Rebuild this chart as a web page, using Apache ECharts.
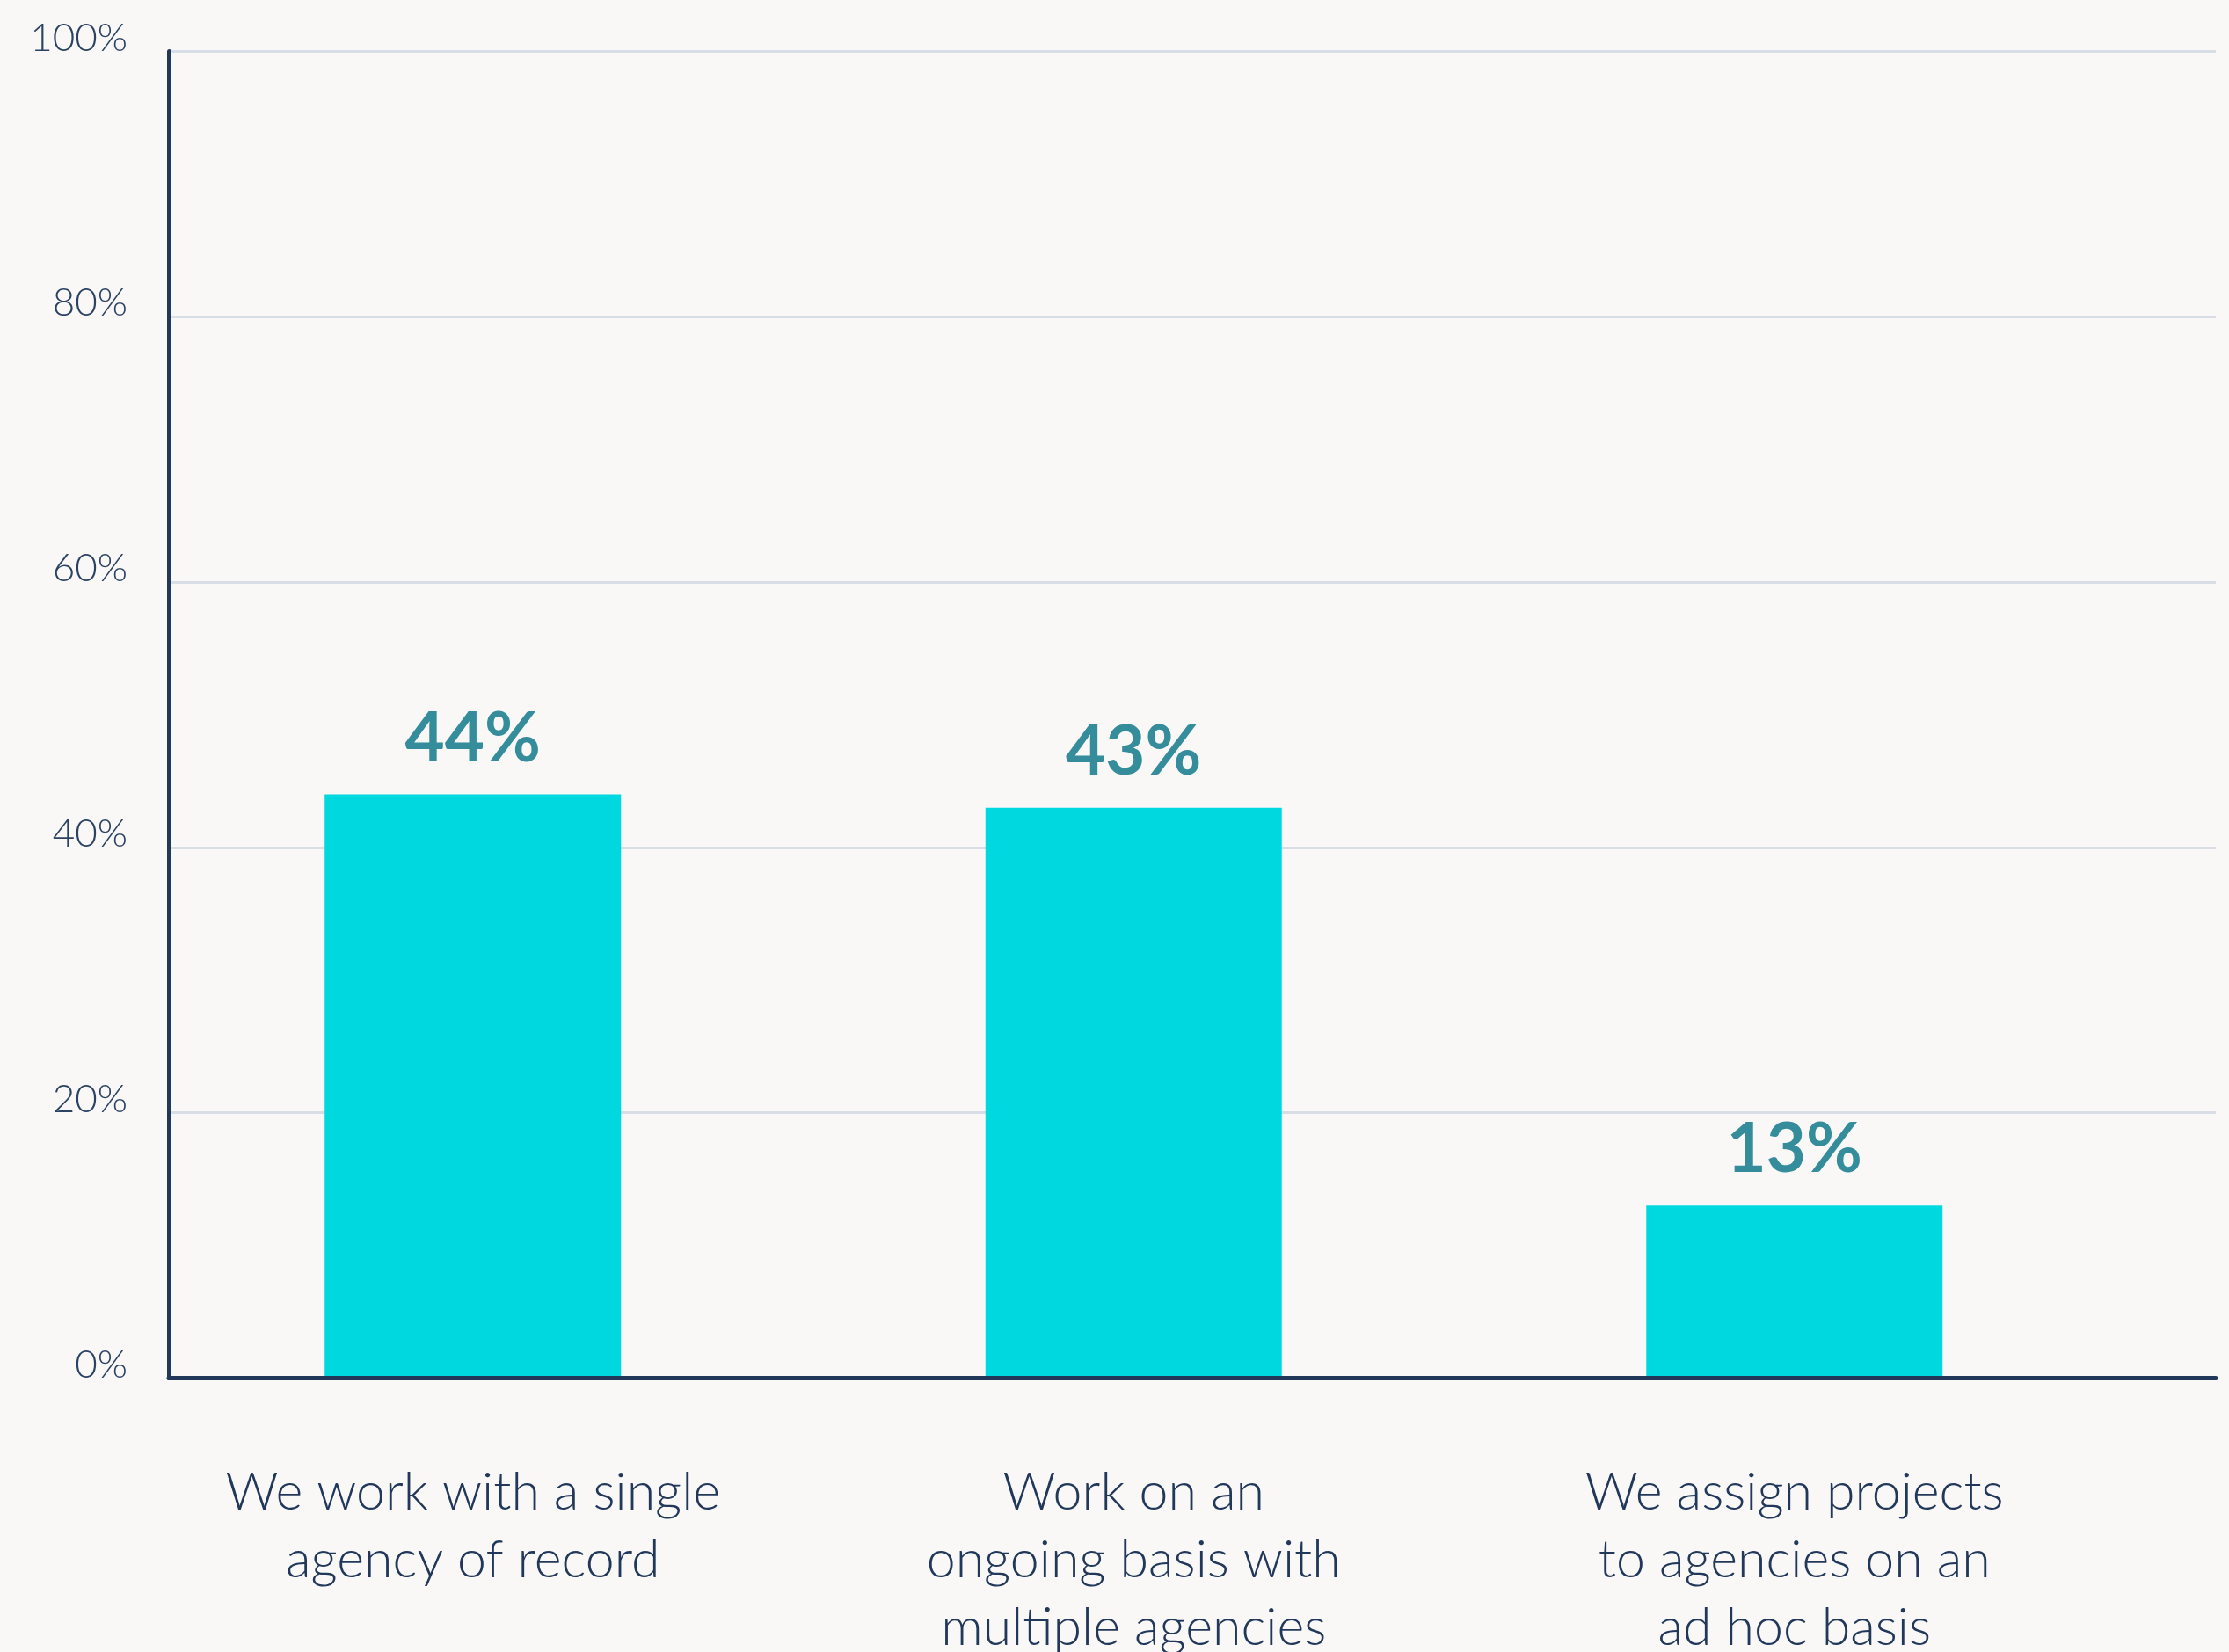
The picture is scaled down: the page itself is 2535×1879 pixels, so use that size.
<!DOCTYPE html>
<html>
<head>
<meta charset="utf-8">
<script src="https://cdn.jsdelivr.net/npm/echarts@6/dist/echarts.min.js"></script>
<style>
  html, body { margin: 0; padding: 0; background: #f9f8f7; }
  #chart { width: 2535px; height: 1879px; }
</style>
</head>
<body>
<div id="chart"></div>
<script>
// Survey answers and the share of respondents for each
const categories = [
  'We work with a single\nagency of record',
  'Work on an\nongoing basis with\nmultiple agencies',
  'We assign projects\nto agencies on an\nad hoc basis'
];
const shares = [44, 43, 13];
const yTicks = { min: 0, max: 100, interval: 20 };

const navy = '#22385a';
const font = 'Lato, "Open Sans", sans-serif';

const chart = echarts.init(document.getElementById('chart'), null, { renderer: 'canvas' });

chart.setOption({
  backgroundColor: '#f9f8f7',
  animation: false,
  grid: [
    // frame: gridlines and axis lines
    { left: 192, right: 15, top: 58.5, bottom: 311.5, outerBoundsMode: 'none', containLabel: false },
    // bars and category labels
    { left: 162, width: 2254.5, top: 58.5, bottom: 311.5, outerBoundsMode: 'none', containLabel: false }
  ],
  xAxis: [
    {
      gridIndex: 0, type: 'category', data: [''], z: 10,
      axisLine: { show: true, lineStyle: { color: navy, width: 5 } },
      axisTick: { show: false }, axisLabel: { show: false }, splitLine: { show: false }
    },
    {
      gridIndex: 1, type: 'category', data: categories,
      axisLine: { show: false }, axisTick: { show: false },
      axisLabel: {
        interval: 0, margin: 92,
        color: navy, fontFamily: font, fontWeight: 300,
        fontSize: 59, lineHeight: 77, align: 'center'
      }
    }
  ],
  yAxis: [
    {
      gridIndex: 0, type: 'value', min: yTicks.min, max: yTicks.max, interval: yTicks.interval,
      axisLine: { show: true, lineStyle: { color: navy, width: 5 } },
      axisTick: { show: false },
      axisLabel: {
        formatter: '{value}%', color: '#2b4263', fontFamily: font, fontWeight: 300,
        fontSize: 44, margin: 47, verticalAlign: 'bottom', lineHeight: 30
      },
      splitLine: { show: true, lineStyle: { color: '#d9dde5', width: 3 } }
    },
    {
      gridIndex: 1, type: 'value', min: yTicks.min, max: yTicks.max, show: false,
      splitLine: { show: false }
    }
  ],
  series: [{
    type: 'bar',
    xAxisIndex: 1, yAxisIndex: 1,
    data: shares,
    barWidth: 337,
    itemStyle: { color: '#00d8e0' },
    label: {
      show: true, position: 'top', distance: 24,
      formatter: '{c}%',
      color: '#358d9c', fontFamily: font, fontWeight: 'bold', fontSize: 78
    }
  }]
});
</script>
</body>
</html>
